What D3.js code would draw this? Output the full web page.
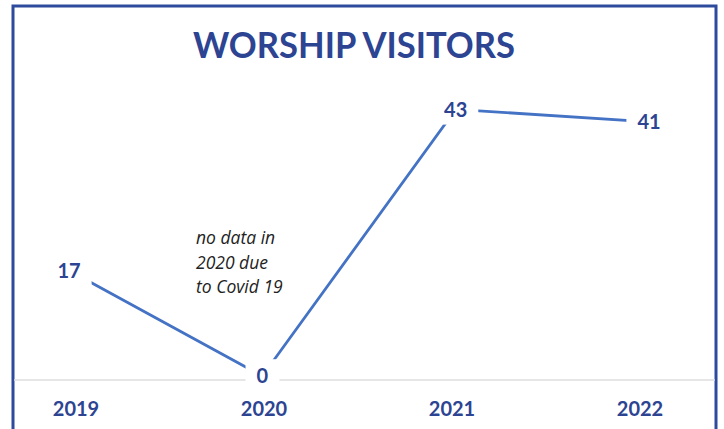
<!DOCTYPE html>
<html>
<head>
<meta charset="utf-8">
<script src="https://cdn.jsdelivr.net/npm/d3@7"></script>
<style>
  body { margin: 0; background: #fff; }
  svg { display: block; }
</style>
</head>
<body>
<div id="chart"></div>
<script>
// data
var years = ["2019", "2020", "2021", "2022"];
var visitors = [17, 0, 43, 41];
var noteLines = ["no data in", "2020 due", "to Covid 19"];
var title = "WORSHIP VISITORS";

var width = 724,
    height = 429;

var navy = "#2c4492",
    lineBlue = "#4472c4";

var svg = d3.select("#chart")
    .append("svg")
    .attr("width", width)
    .attr("height", height);

// outer frame (bottom edge runs off the picture)
svg.append("rect")
    .attr("x", 13)
    .attr("y", 6)
    .attr("width", 703)
    .attr("height", 440)
    .attr("fill", "none")
    .attr("stroke", "#2d4a9c")
    .attr("stroke-width", 3);

svg.append("text")
    .attr("x", 354)
    .attr("y", 58)
    .attr("text-anchor", "middle")
    .attr("textLength", 322)
    .attr("lengthAdjust", "spacingAndGlyphs")
    .style("font-family", "Lato, 'Open Sans', sans-serif")
    .style("font-weight", 700)
    .style("font-size", "37px")
    .style("fill", navy)
    .text(title);

var x = d3.scalePoint()
    .domain(years)
    .range([69, 649]);

// the year labels sit on a slightly narrower spread than the points
var xAxis = d3.scalePoint()
    .domain(years)
    .range([76, 640]);

var y = d3.scaleLinear()
    .domain([0, 50])
    .range([376, 66]);

var points = years.map(function (yr, i) {
    return { year: yr, value: visitors[i] };
});

// light baseline
svg.append("line")
    .attr("x1", 14)
    .attr("x2", 715)
    .attr("y1", 380)
    .attr("y2", 380)
    .attr("stroke", "#dedede")
    .attr("stroke-width", 1.5);

var line = d3.line()
    .x(function (d) { return x(d.year); })
    .y(function (d) { return y(d.value); });

svg.append("path")
    .datum(points)
    .attr("d", line)
    .attr("fill", "none")
    .attr("stroke", lineBlue)
    .attr("stroke-width", 2.8);

// data labels with white boxes over the line
var labels = svg.selectAll(".label")
    .data(points)
    .enter()
    .append("g")
    .attr("class", "label")
    .attr("transform", function (d) {
        return "translate(" + x(d.year) + "," + y(d.value) + ")";
    });

labels.append("text")
    .attr("text-anchor", "middle")
    .attr("dy", "0.36em")
    .style("font-family", "Lato, 'Open Sans', sans-serif")
    .style("font-weight", 700)
    .style("font-size", "20px")
    .style("fill", navy)
    .text(function (d) { return d.value; });

labels.each(function () {
    var g = d3.select(this);
    var bb = g.select("text").node().getBBox();
    g.insert("rect", "text")
        .attr("x", bb.x - 11)
        .attr("y", bb.y - 4)
        .attr("width", bb.width + 22)
        .attr("height", bb.height + 8)
        .attr("fill", "#fff");
});

svg.selectAll(".year")
    .data(years)
    .enter()
    .append("text")
    .attr("class", "year")
    .attr("x", function (d) { return xAxis(d); })
    .attr("y", 416)
    .attr("text-anchor", "middle")
    .style("font-family", "Lato, 'Open Sans', sans-serif")
    .style("font-weight", 700)
    .style("font-size", "20px")
    .style("fill", navy)
    .text(function (d) { return d; });

// note about 2020
svg.selectAll(".note")
    .data(noteLines)
    .enter()
    .append("text")
    .attr("class", "note")
    .attr("x", 196)
    .attr("y", function (d, i) { return 244 + i * 24.5; })
    .style("font-family", "'Open Sans', sans-serif")
    .style("font-style", "italic")
    .style("font-size", "17.5px")
    .style("fill", "#222")
    .text(function (d) { return d; });
</script>
</body>
</html>
